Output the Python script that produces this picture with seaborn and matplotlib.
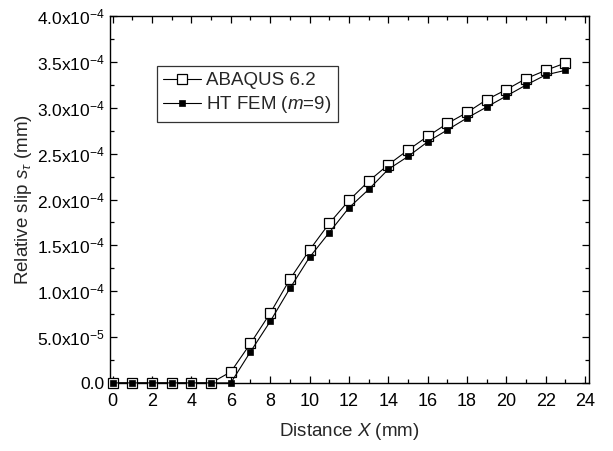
import numpy as np
import pandas as pd
import matplotlib
matplotlib.use("Agg")
import matplotlib.pyplot as plt
from matplotlib.ticker import MultipleLocator, FuncFormatter
import seaborn as sns

sns.set_style("ticks")
plt.rcParams['font.family'] = ['Liberation Sans', 'DejaVu Sans']
plt.rcParams['mathtext.fontset'] = 'custom'
plt.rcParams['mathtext.rm'] = 'Liberation Sans'
plt.rcParams['mathtext.it'] = 'Liberation Sans:italic'

distance = list(range(24))
abaqus = [0, 0, 0, 0, 0, 0, 0.12e-4, 0.43e-4, 0.76e-4, 1.13e-4, 1.45e-4, 1.74e-4,
          1.99e-4, 2.20e-4, 2.38e-4, 2.54e-4, 2.69e-4, 2.83e-4, 2.95e-4, 3.09e-4,
          3.20e-4, 3.32e-4, 3.41e-4, 3.49e-4]
htfem = [0, 0, 0, 0, 0, 0, 0, 0.34e-4, 0.67e-4, 1.03e-4, 1.37e-4, 1.64e-4,
         1.91e-4, 2.11e-4, 2.33e-4, 2.47e-4, 2.63e-4, 2.76e-4, 2.89e-4, 3.01e-4,
         3.13e-4, 3.25e-4, 3.36e-4, 3.41e-4]

df = pd.DataFrame({"x": distance, "abaqus": abaqus, "htfem": htfem})

fig = plt.figure(figsize=(6.13, 4.51), dpi=100)
ax = fig.add_axes([0.179, 0.151, 0.782, 0.813])

sns.lineplot(data=df, x="x", y="abaqus", ax=ax, color="black", lw=0.8,
             marker="s", markersize=7, markerfacecolor="white",
             markeredgecolor="black", markeredgewidth=0.9,
             label="ABAQUS 6.2", clip_on=False, zorder=4)
sns.lineplot(data=df, x="x", y="htfem", ax=ax, color="black", lw=0.8,
             marker="s", markersize=4.5, markerfacecolor="black",
             markeredgecolor="black", markeredgewidth=0.5,
             label="HT FEM ($m$=9)", clip_on=False, zorder=5)

ax.set_xlim(-0.15, 24.2)
ax.set_ylim(0, 4.0e-4)
ax.xaxis.set_major_locator(MultipleLocator(2))
ax.xaxis.set_minor_locator(MultipleLocator(1))
ax.yaxis.set_major_locator(MultipleLocator(0.5e-4))
ax.yaxis.set_minor_locator(MultipleLocator(0.25e-4))


def sci(v, pos):
    if abs(v) < 1e-12:
        return "0.0"
    e = int(np.floor(np.log10(abs(v)) + 1e-9))
    m = v / 10 ** e
    return "%.1fx10$^{%d}$" % (m, e)


ax.yaxis.set_major_formatter(FuncFormatter(sci))
ax.tick_params(which="both", direction="in", top=True, right=True,
               labelsize=12.5, colors="black")
ax.tick_params(axis="x", labelsize=13, pad=7)
ax.tick_params(which="major", length=5, width=0.9)
ax.tick_params(which="minor", length=3, width=0.9)
for s in ax.spines.values():
    s.set_linewidth(1.0)
    s.set_color("black")

ax.set_xlabel("Distance $X$ (mm)", fontsize=13.5, labelpad=8)
ax.set_ylabel(r"Relative slip $s_{\tau}$ (mm)", fontsize=13.5, labelpad=2)

leg = ax.legend(loc="upper left", bbox_to_anchor=(0.098, 0.865), fontsize=13.5,
                frameon=True, fancybox=False, edgecolor="black",
                handlelength=2.0, handletextpad=0.3, borderpad=0.35,
                labelspacing=0.25, borderaxespad=0)
leg.get_frame().set_linewidth(0.9)

fig.savefig("out.png", dpi=100)
